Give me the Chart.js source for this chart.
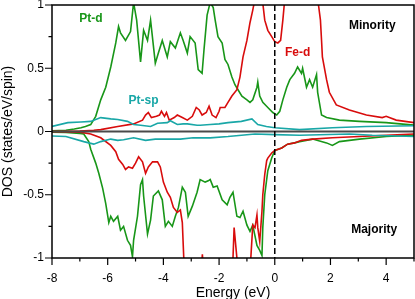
<!DOCTYPE html>
<html>
<head>
<meta charset="utf-8">
<script src="https://cdn.jsdelivr.net/npm/chart.js@4.4.1/dist/chart.umd.min.js"></script>
<style>
  html, body { margin: 0; padding: 0; background: #fff; }
  #wrap { width: 415px; height: 299px; }
</style>
</head>
<body>
<div id="wrap"><canvas id="dos" width="415" height="299"></canvas></div>
<script>
// energies (eV) and DOS values; minority > 0, majority < 0
const ptdMinE = [-8, -7.5, -7.2, -6.96, -6.8, -6.61, -6.43, -6.25, -6.07, -5.89, -5.71, -5.61, -5.54, -5.36, -5.18, -5.07, -4.96, -4.82, -4.71, -4.57, -4.46, -4.29, -4.18, -4.04, -3.86, -3.75, -3.57, -3.39, -3.29, -3.14, -3.04, -2.86, -2.75, -2.61, -2.54, -2.43, -2.32, -2.21, -2.14, -2.04, -1.89, -1.79, -1.68, -1.54, -1.43, -1.32, -1.18, -1.0, -0.89, -0.79, -0.64, -0.61, -0.54, -0.43, -0.25, -0.07, 0.07, 0.18, 0.29, 0.43, 0.54, 0.71, 0.82, 0.96, 1.0, 1.14, 1.25, 1.36, 1.5, 1.54, 1.68, 1.86, 2.32, 3.04, 4.0, 5.0];
const ptdMin = [0.005, 0.01, 0.02, 0.03, 0.04, 0.055, 0.12, 0.25, 0.35, 0.51, 0.70, 0.83, 0.78, 0.72, 0.79, 1.02, 0.88, 0.55, 0.80, 0.72, 0.88, 0.54, 0.62, 0.72, 0.59, 0.71, 0.66, 0.78, 0.72, 0.62, 0.75, 0.70, 0.49, 0.46, 0.65, 0.92, 1.02, 0.98, 0.88, 0.75, 0.70, 0.57, 0.53, 0.43, 0.37, 0.33, 0.28, 0.25, 0.23, 0.25, 0.35, 0.39, 0.28, 0.23, 0.19, 0.15, 0.13, 0.16, 0.25, 0.35, 0.41, 0.46, 0.51, 0.46, 0.50, 0.35, 0.41, 0.35, 0.45, 0.31, 0.13, 0.11, 0.09, 0.08, 0.07, 0.05];

const fedMinE = [-8, -7, -6.5, -6.25, -5.64, -5.07, -4.75, -4.64, -4.54, -4.43, -4.25, -4.14, -4.07, -3.96, -3.89, -3.79, -3.61, -3.5, -3.32, -3.14, -2.96, -2.82, -2.71, -2.61, -2.46, -2.36, -2.25, -2.11, -2.0, -1.96, -1.79, -1.68, -1.54, -1.36, -1.25, -1.14, -1.0, -0.89, -0.79, -0.71, -0.6, -0.5, -0.36, -0.25, -0.11, 0, 0.11, 0.21, 0.29, 0.36, 0.6, 1.0, 1.4, 1.57, 1.64, 1.68, 1.71, 1.86, 1.96, 2.21, 2.68, 3.29, 3.86, 4.0, 4.36, 5.0];
const fedMin = [0, 0.003, 0.01, 0.015, 0.04, 0.06, 0.09, 0.13, 0.15, 0.11, 0.12, 0.13, 0.16, 0.12, 0.15, 0.09, 0.11, 0.13, 0.11, 0.09, 0.12, 0.19, 0.17, 0.13, 0.15, 0.20, 0.13, 0.11, 0.16, 0.19, 0.19, 0.23, 0.28, 0.33, 0.43, 0.59, 0.72, 0.86, 0.96, 1.05, 1.25, 1.15, 0.88, 0.80, 0.75, 0.71, 0.70, 0.72, 0.88, 1.05, 2.0, 2.5, 1.6, 1.0, 0.88, 0.72, 0.59, 0.41, 0.31, 0.21, 0.17, 0.13, 0.11, 0.12, 0.09, 0.07];

const ptspMinE = [-8, -7.43, -6.96, -6.61, -6.25, -5.89, -5.64, -5.29, -5.07, -4.82, -4.46, -4.21, -3.86, -3.75, -3.5, -3.29, -3.14, -2.79, -2.68, -2.32, -2.0, -1.68, -1.2, -0.82, -0.61, -0.3, 0, 0.89, 2.07, 3.29, 5.0];
const ptspMin = [0.04, 0.07, 0.075, 0.08, 0.11, 0.10, 0.095, 0.08, 0.055, 0.05, 0.04, 0.065, 0.07, 0.085, 0.055, 0.06, 0.06, 0.05, 0.05, 0.055, 0.06, 0.07, 0.08, 0.10, 0.055, 0.04, 0.03, 0.015, 0.03, 0.04, 0.045];

const ptdMajE = [-8, -7.5, -7.0, -6.86, -6.68, -6.61, -6.43, -6.32, -6.18, -6.07, -5.96, -5.89, -5.79, -5.64, -5.54, -5.43, -5.29, -5.18, -5.11, -5.07, -4.93, -4.82, -4.75, -4.71, -4.57, -4.46, -4.36, -4.18, -4.04, -3.93, -3.82, -3.68, -3.57, -3.46, -3.32, -3.21, -3.11, -2.96, -2.79, -2.68, -2.5, -2.39, -2.32, -2.21, -2.07, -1.89, -1.71, -1.61, -1.5, -1.36, -1.25, -1.14, -1.0, -0.89, -0.79, -0.64, -0.54, -0.46, -0.43, -0.36, -0.25, -0.11, 0, 0.25, 0.46, 0.71, 0.89, 1.36, 1.86, 2.07, 2.32, 3.04, 4.0, 5.0];
const ptdMaj = [-0.005, -0.008, -0.015, -0.02, -0.08, -0.14, -0.25, -0.33, -0.45, -0.57, -0.72, -0.67, -0.71, -0.67, -0.78, -0.75, -0.86, -0.90, -0.99, -0.86, -0.67, -0.42, -0.38, -0.51, -0.81, -0.70, -0.51, -0.47, -0.54, -0.75, -0.71, -0.75, -0.67, -0.60, -0.44, -0.48, -0.67, -0.59, -0.48, -0.38, -0.40, -0.39, -0.38, -0.44, -0.43, -0.54, -0.58, -0.52, -0.48, -0.67, -0.68, -0.63, -0.74, -0.79, -0.74, -0.90, -0.94, -0.98, -0.76, -0.50, -0.31, -0.21, -0.15, -0.13, -0.10, -0.09, -0.08, -0.06, -0.09, -0.11, -0.08, -0.06, -0.04, -0.03];

const fedMajE = [-8, -7.0, -6.61, -6.25, -5.89, -5.71, -5.61, -5.46, -5.36, -5.25, -5.11, -5.0, -4.89, -4.75, -4.64, -4.54, -4.39, -4.21, -4.11, -4.0, -3.86, -3.75, -3.64, -3.5, -3.39, -3.32, -3.27, -3.1, -2.7, -2.6, -2.5, -2.0, -1.55, -1.46, -1.36, -1.25, -0.95, -0.86, -0.79, -0.71, -0.64, -0.61, -0.54, -0.46, -0.43, -0.36, -0.29, -0.25, -0.11, 0, 0.25, 0.46, 0.71, 0.96, 1.36, 2.07, 3.04, 4.0, 5.0];
const fedMaj = [0, -0.005, -0.02, -0.05, -0.11, -0.16, -0.22, -0.26, -0.30, -0.28, -0.29, -0.25, -0.20, -0.24, -0.33, -0.28, -0.24, -0.24, -0.28, -0.40, -0.48, -0.52, -0.60, -0.64, -0.62, -0.72, -0.99, -1.3, -1.3, -0.97, -1.3, -1.4, -1.3, -0.76, -1.0, -1.3, -1.3, -1.0, -0.74, -0.76, -0.66, -0.76, -0.87, -0.63, -0.50, -0.34, -0.23, -0.21, -0.17, -0.15, -0.13, -0.10, -0.09, -0.07, -0.06, -0.05, -0.04, -0.03, -0.02];

const ptspMajE = [-8, -7.5, -6.86, -6.5, -6.25, -5.89, -5.64, -5.43, -5.07, -4.64, -4.29, -3.86, -3.39, -2.93, -2.79, -2.32, -1.68, -0.71, 0, 0.89, 2.68, 3.5, 5.0];
const ptspMaj = [-0.035, -0.04, -0.08, -0.10, -0.08, -0.06, -0.07, -0.065, -0.05, -0.07, -0.06, -0.06, -0.06, -0.05, -0.05, -0.05, -0.04, -0.02, -0.025, -0.03, -0.02, -0.03, -0.04];

const xTicks = [-8, -6, -4, -2, 0, 2, 4];
const yTicks = [-1, -0.5, 0, 0.5, 1];

const GREEN = '#189618', RED = '#d80c0c', TEAL = '#19a7a7';
const FONT = "'Liberation Sans', Arial, sans-serif";

const pts = (xs, ys) => xs.map((x, i) => ({x: x, y: ys[i]}));
const line = (xs, ys, color) => ({
    data: pts(xs, ys), borderColor: color, borderWidth: 1.6,
    pointRadius: 0, tension: 0, fill: false
});

const notes = [
    {text: 'Pt-d', e: -6.6, v: 0.89, color: GREEN},
    {text: 'Pt-sp', e: -4.71, v: 0.24, color: TEAL},
    {text: 'Fe-d', e: 0.82, v: 0.62, color: RED},
    {text: 'Minority', e: 3.5, v: 0.84, color: '#000'},
    {text: 'Majority', e: 3.57, v: -0.78, color: '#000'}
];

const decor = {
    id: 'decor',
    afterDatasetsDraw(chart) {
        const {ctx, chartArea: a, scales: {x, y}} = chart;
        ctx.save();
        // zero line
        ctx.strokeStyle = '#4a4a4a';
        ctx.lineWidth = 2;
        ctx.beginPath();
        ctx.moveTo(a.left, y.getPixelForValue(0));
        ctx.lineTo(a.right, y.getPixelForValue(0));
        ctx.stroke();
        // fermi level
        ctx.strokeStyle = '#000';
        ctx.lineWidth = 1.5;
        ctx.setLineDash([6, 3]);
        ctx.beginPath();
        ctx.moveTo(x.getPixelForValue(0), a.top);
        ctx.lineTo(x.getPixelForValue(0), a.bottom);
        ctx.stroke();
        ctx.setLineDash([]);
        // frame
        ctx.strokeRect(a.left, a.top, a.right - a.left, a.bottom - a.top);
        // outward ticks
        ctx.lineWidth = 1.2;
        ctx.beginPath();
        x.ticks.forEach(t => {
            const px = x.getPixelForValue(t.value);
            const len = xTicks.includes(t.value) ? 7 : 3.5;
            ctx.moveTo(px, a.bottom);
            ctx.lineTo(px, a.bottom + len);
        });
        y.ticks.forEach(t => {
            const py = y.getPixelForValue(t.value);
            const len = yTicks.includes(t.value) ? 7 : 3.5;
            ctx.moveTo(a.left, py);
            ctx.lineTo(a.left - len, py);
        });
        ctx.stroke();
        // labels
        ctx.font = 'bold 12px ' + FONT;
        ctx.textAlign = 'center';
        ctx.textBaseline = 'middle';
        notes.forEach(n => {
            ctx.fillStyle = n.color;
            ctx.fillText(n.text, x.getPixelForValue(n.e), y.getPixelForValue(n.v));
        });
        ctx.restore();
    }
};

new Chart('dos', {
    type: 'line',
    data: {
        datasets: [
            line(ptspMinE, ptspMin, TEAL),
            line(ptspMajE, ptspMaj, TEAL),
            line(fedMinE, fedMin, RED),
            line(fedMajE, fedMaj, RED),
            line(ptdMinE, ptdMin, GREEN),
            line(ptdMajE, ptdMaj, GREEN)
        ]
    },
    options: {
        responsive: false,
        animation: false,
        devicePixelRatio: 1,
        layout: {padding: {top: 5, right: 1, left: 0, bottom: 0}},
        plugins: {legend: {display: false}, tooltip: {enabled: false}},
        scales: {
            x: {
                type: 'linear', min: -8, max: 5,
                grid: {display: false, drawTicks: false},
                border: {display: false},
                ticks: {
                    stepSize: 1, padding: 13, color: '#000', maxRotation: 0, autoSkip: false,
                    font: {size: 12, family: FONT},
                    callback: v => xTicks.includes(v) ? String(v) : ''
                },
                title: {display: true, text: 'Energy (eV)', color: '#000', padding: {top: 0, bottom: -3}, font: {size: 14, family: FONT}},
                afterFit: s => { s.height = 41; s.paddingLeft = 0; s.paddingRight = 0; }
            },
            y: {
                min: -1, max: 1,
                grid: {display: false, drawTicks: false},
                border: {display: false},
                ticks: {
                    stepSize: 0.25, padding: 8, color: '#000', autoSkip: false,
                    font: {size: 12, family: FONT},
                    callback: v => yTicks.includes(v) ? String(v) : ''
                },
                title: {display: true, text: 'DOS (states/eV/spin)', color: '#000', padding: 0, font: {size: 14, family: FONT}},
                afterFit: s => { s.width = 52; s.paddingTop = 0; s.paddingBottom = 0; }
            }
        }
    },
    plugins: [decor]
});
</script>
</body>
</html>
